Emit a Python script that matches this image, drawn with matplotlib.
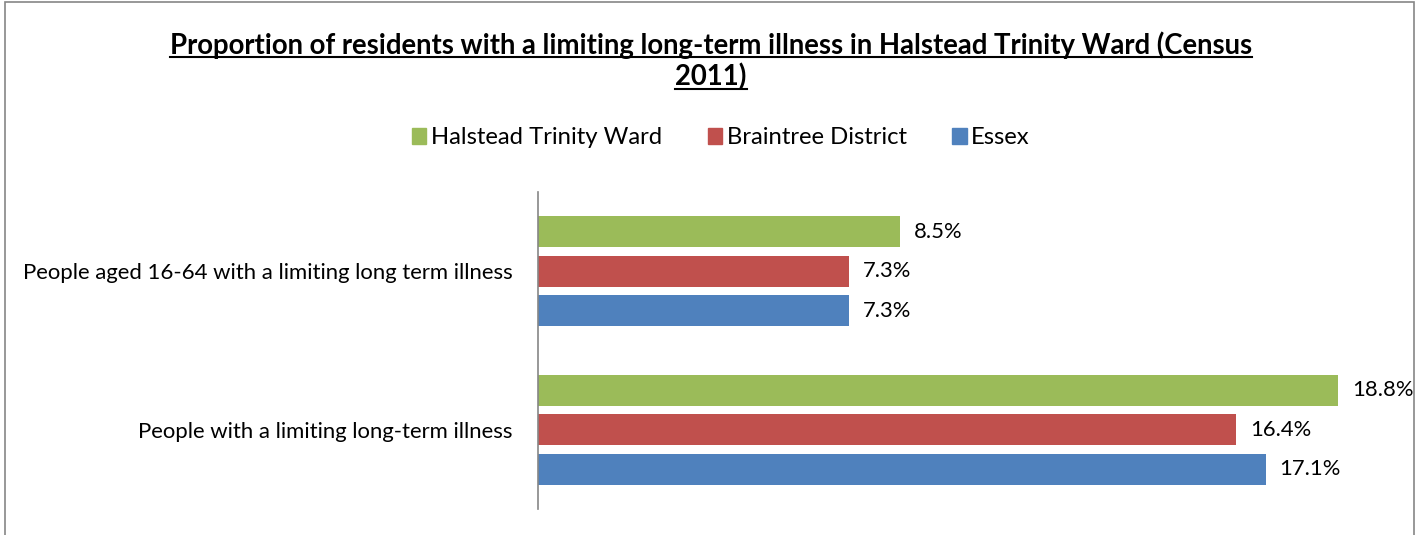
import numpy as np
import matplotlib
matplotlib.use("Agg")
import matplotlib.pyplot as plt
from matplotlib.patches import Rectangle, Patch
from matplotlib.lines import Line2D

# data
categories = ["People aged 16-64 with a limiting long term illness",
              "People with a limiting long-term illness"]
series_names = ["Halstead Trinity Ward", "Braintree District", "Essex"]
halstead = [8.5, 18.8]
braintree = [7.3, 16.4]
essex = [7.3, 17.1]
colors = ["#9BBB59", "#C0504D", "#4F81BD"]

plt.rcParams['font.family'] = ['Lato', 'DejaVu Sans']

W, H = 1422, 535
fig = plt.figure(figsize=(W / 100, H / 100), dpi=100)
ax = fig.add_axes([538 / W, 26 / H, 851 / W, 317 / H])

y = np.arange(len(categories))
pitch = 0.249
height = 0.196
for i, (vals, name) in enumerate(zip([halstead, braintree, essex], series_names)):
    bars = ax.barh(y + (i - 1) * pitch, vals, height=height, color=colors[i], label=name)
    ax.bar_label(bars, labels=[f"{v:.1f}%" for v in vals], padding=10, fontsize=15.8)

ax.set_xlim(0, 20)
ax.set_ylim(1.5, -0.5)
ax.set_yticks(y)
ax.set_yticklabels(categories, fontsize=15.9)
ax.tick_params(axis='y', length=0, pad=18)
ax.xaxis.set_visible(False)
for s in ["top", "right", "bottom"]:
    ax.spines[s].set_visible(False)
ax.spines["left"].set_color("#868686")
ax.spines["left"].set_linewidth(1.2)

# legend
handles = [Patch(color=c) for c in colors]
fig.legend(handles, series_names, loc="center", bbox_to_anchor=(721 / W, 1 - 138 / H),
           ncol=3, frameon=False, fontsize=17.2, handlelength=0.6, handleheight=0.6,
           handletextpad=0.2, columnspacing=1.9)

# title (two lines, bold, underlined)
title_lines = ["Proportion of residents with a limiting long-term illness in Halstead Trinity Ward (Census",
               "2011)"]
title_y = [1 - 45 / H, 1 - 77 / H]
renderer = fig.canvas.get_renderer()
for line, ty in zip(title_lines, title_y):
    t = fig.text(711 / W, ty, line, ha="center", va="center", fontsize=19.8, fontweight="bold")
    bb = t.get_window_extent(renderer)
    uy = (bb.y0 + 2) / H
    fig.add_artist(Line2D([bb.x0 / W, bb.x1 / W], [uy, uy], color="black", linewidth=1.5))

# outer border
fig.add_artist(Rectangle((5 / W, -0.05), 1409 / W, 1 - 2 / H + 0.05, transform=fig.transFigure,
                         fill=False, edgecolor="#868686", linewidth=1.2))

fig.savefig("out.png", dpi=100)
